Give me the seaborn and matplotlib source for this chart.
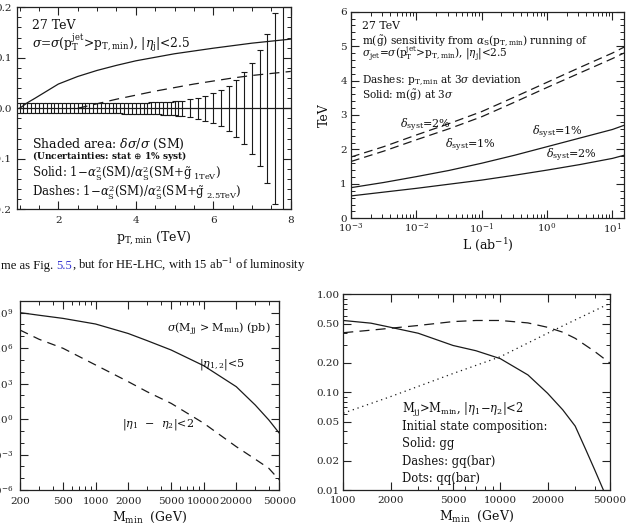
import numpy as np
import pandas as pd
import matplotlib
matplotlib.use("Agg")
import matplotlib.pyplot as plt
import seaborn as sns
from matplotlib.ticker import (MultipleLocator, LogLocator, FixedLocator,
                               FuncFormatter, NullFormatter, FormatStrFormatter,
                               LogFormatterSciNotation)

# ---------------- data ----------------
# (a) 27 TeV: relative deviation vs pT,min
pt_solid = [1.0, 1.2, 1.4, 1.7, 2.0, 2.5, 3.0, 3.5, 4.0, 5.0, 6.0, 7.0, 8.0]
dev_solid = [0.0, 0.011, 0.020, 0.034, 0.048, 0.063, 0.075, 0.085, 0.094, 0.108, 0.119, 0.129, 0.137]
pt_dash = [2.5, 3.0, 3.5, 4.0, 4.5, 5.0, 5.5, 6.0, 6.5, 7.0, 7.5, 8.0]
dev_dash = [0.0, 0.009, 0.018, 0.026, 0.034, 0.041, 0.048, 0.054, 0.060, 0.065, 0.069, 0.073]
pt_err = [1.0, 1.1, 1.2, 1.3, 1.4, 1.5, 1.6, 1.7, 1.8, 1.9, 2.0, 2.1, 2.2, 2.3, 2.4,
          2.5, 2.6, 2.7, 2.8, 2.9, 3.0, 3.1, 3.2, 3.3, 3.4, 3.5, 3.6, 3.7, 3.8, 3.9,
          4.0, 4.1, 4.2, 4.3, 4.4, 4.5, 4.6, 4.7, 4.8, 4.9, 5.0, 5.1, 5.2,
          5.4, 5.6, 5.8, 6.0, 6.2, 6.4, 6.6, 6.8, 7.0, 7.2, 7.4, 7.6, 7.8]
err = [0.010, 0.010, 0.010, 0.010, 0.010, 0.010, 0.010, 0.010, 0.010, 0.010, 0.010,
       0.010, 0.010, 0.010, 0.010, 0.010, 0.010, 0.010, 0.010, 0.010, 0.010, 0.010,
       0.010, 0.010, 0.010, 0.010, 0.0102, 0.0103, 0.0104, 0.0105, 0.0106,
       0.0108, 0.0110, 0.0112, 0.0115, 0.0118, 0.0120, 0.0124, 0.0128, 0.0133,
       0.0138, 0.0143, 0.0148,
       0.018, 0.021, 0.025, 0.030, 0.036, 0.045, 0.057, 0.071, 0.090, 0.115,
       0.148, 0.189, 0.240]

# (b) sensitivity vs luminosity
lumi = [0.001, 0.00316, 0.01, 0.0316, 0.1, 0.316, 1.0, 3.16, 10.0, 15.0]
mg_syst1 = [0.89, 1.04, 1.21, 1.39, 1.60, 1.83, 2.08, 2.33, 2.58, 2.70]
mg_syst2 = [0.65, 0.76, 0.87, 0.99, 1.11, 1.25, 1.40, 1.56, 1.74, 1.83]
ptmin_syst2 = [1.78, 2.08, 2.42, 2.75, 3.10, 3.52, 3.95, 4.38, 4.80, 4.97]
ptmin_syst1 = [1.65, 1.95, 2.28, 2.60, 2.95, 3.37, 3.80, 4.22, 4.64, 4.80]

# (c) dijet cross section vs Mmin
mmin_c = [200, 300, 500, 1000, 2000, 3000, 5000, 10000, 20000, 30000, 40000, 50000]
sig_eta5 = [9.8e8, 5.9e8, 3.2e8, 1.07e8, 1.7e7, 4.2e6, 6.8e5, 3.2e4, 5.4e2, 1.5e1, 8.3e-1, 6.3e-2]
sig_deta2 = [3.3e7, 5.5e6, 9.5e5, 3.7e4, 1.45e3, 2.0e2, 2.1e1, 4.4e-1, 4.6e-3, 4.0e-4, 6.8e-5, 7.1e-6]

# (d) initial-state composition
mmin_d = [1000, 1500, 2000, 3000, 5000, 7000, 10000, 15000, 20000, 25000, 30000, 35000, 40000, 46000]
frac_gg = [0.54, 0.507, 0.46, 0.40, 0.30, 0.265, 0.22, 0.15, 0.0975, 0.066, 0.045, 0.026, 0.016, 0.0095]
mmin_d2 = [1000, 1500, 2000, 3000, 5000, 7000, 10000, 15000, 20000, 25000, 30000, 40000, 50000]
frac_gq = [0.405, 0.43, 0.45, 0.48, 0.526, 0.54, 0.54, 0.51, 0.46, 0.41, 0.355, 0.26, 0.198]
mmin_d3 = [1000, 2000, 5000, 10000, 20000, 30000, 50000]
frac_qq = [0.061, 0.09, 0.155, 0.23, 0.40, 0.547, 0.81]

# ---------------- style ----------------
sns.set_theme(style="ticks")
plt.rcParams.update({
    "font.family": ["DejaVu Serif"],
    "mathtext.fontset": "dejavuserif",
    "axes.linewidth": 0.9,
    "axes.edgecolor": "#222222",
    "xtick.color": "#222222",
    "ytick.color": "#222222",
    "xtick.direction": "in",
    "ytick.direction": "in",
    "xtick.top": True,
    "ytick.right": True,
    "xtick.major.size": 6,
    "ytick.major.size": 6,
    "xtick.minor.size": 3,
    "ytick.minor.size": 3,
    "xtick.major.width": 0.8,
    "ytick.major.width": 0.8,
    "xtick.minor.width": 0.7,
    "ytick.minor.width": 0.7,
    "xtick.labelsize": 7.5,
    "ytick.labelsize": 7.5,
    "axes.labelsize": 9,
    "text.color": "#111111",
    "axes.labelcolor": "#111111",
})

W, H = 641, 532
fig = plt.figure(figsize=(W / 100, H / 100), dpi=100)
LC = "#1a1a1a"
LW = 0.9


def add_ax(x0, x1, ytop, ybot):
    return fig.add_axes([x0 / W, 1 - ybot / H, (x1 - x0) / W, (ybot - ytop) / H])


def ftext(x, y, s, size=8, **kw):
    return fig.text(x / W, 1 - y / H, s, va="baseline", ha="left", fontsize=size, **kw)


# ---------------- panel (a) ----------------
ax1 = add_ax(16.5, 290.7, 7.3, 209.3)
ax1.errorbar(pt_err, [0.0] * len(pt_err), yerr=err, fmt="none", ecolor=LC,
             elinewidth=0.8, capsize=2.5, capthick=0.8)
ax1.axhline(0, color=LC, lw=LW)
sns.lineplot(x=pt_solid, y=dev_solid, ax=ax1, color=LC, lw=LW, estimator=None, sort=False)
sns.lineplot(x=pt_dash, y=dev_dash, ax=ax1, color=LC, lw=LW, estimator=None, sort=False,
             linestyle=(0, (8, 5)))
ax1.set_xlim(0.92, 8)
ax1.set_ylim(-0.2, 0.2)
ax1.xaxis.set_major_locator(FixedLocator([2, 4, 6, 8]))
ax1.xaxis.set_minor_locator(MultipleLocator(0.5))
ax1.yaxis.set_major_locator(MultipleLocator(0.1))
ax1.yaxis.set_minor_locator(MultipleLocator(0.02))
ax1.yaxis.set_major_formatter(FormatStrFormatter("%.1f"))
ax1.tick_params(axis="x", which="major", pad=5)
ax1.tick_params(axis="y", which="major", pad=3.5)
ax1.set_xlabel(r"p$_{\rm T,min}$ (TeV)", labelpad=3)
ax1.set_ylabel("")

ftext(32, 29.3, "27 TeV", 9)
ftext(32, 47.7, r"$\sigma$=$\sigma$(p$_{\rm T}^{\rm jet}$>p$_{\rm T,min}$), |$\eta_{\rm j}$|<2.5", 8.8)
ftext(32, 147.7, r"Shaded area: $\delta\sigma/\sigma$ (SM)", 9)
ftext(32, 159.3, r"(Uncertainties: stat $\oplus$ 1% syst)", 6.5, fontweight="bold")
ftext(32, 177.7, r"Solid: 1$-\alpha_{\rm S}^2$(SM)/$\alpha_{\rm S}^2$(SM+$\tilde{\rm g}_{\rm\ 1TeV}$)", 8.5)
ftext(32, 196.7, r"Dashes: 1$-\alpha_{\rm S}^2$(SM)/$\alpha_{\rm S}^2$(SM+$\tilde{\rm g}_{\rm\ 2.5TeV}$)", 8.5)

# ---------------- panel (b) ----------------
ax2 = add_ax(351, 624, 11.7, 218.3)
ax2.set_xscale("log")
sns.lineplot(x=lumi, y=mg_syst1, ax=ax2, color=LC, lw=LW, estimator=None, sort=False)
sns.lineplot(x=lumi, y=mg_syst2, ax=ax2, color=LC, lw=LW, estimator=None, sort=False)
sns.lineplot(x=lumi, y=ptmin_syst2, ax=ax2, color=LC, lw=LW, estimator=None, sort=False,
             linestyle=(0, (7, 4)))
sns.lineplot(x=lumi, y=ptmin_syst1, ax=ax2, color=LC, lw=LW, estimator=None, sort=False,
             linestyle=(0, (7, 4)))
ax2.set_xlim(1e-3, 15)
ax2.set_ylim(0, 6)
ax2.xaxis.set_major_locator(LogLocator(base=10, numticks=10))
ax2.xaxis.set_minor_locator(LogLocator(base=10, subs=np.arange(2, 10), numticks=20))
ax2.xaxis.set_minor_formatter(NullFormatter())
ax2.yaxis.set_major_locator(MultipleLocator(1))
ax2.yaxis.set_minor_locator(MultipleLocator(0.2))
ax2.tick_params(axis="x", which="major", pad=2.5)
ax2.tick_params(axis="y", which="major", pad=3)
ax2.set_xlabel(r"L (ab$^{-1}$)", labelpad=0)
ax2.set_ylabel("TeV", labelpad=7)

ftext(362, 29.3, "27 TeV", 7.8)
ftext(362, 44.3, r"m($\tilde{\rm g}$) sensitivity from $\alpha_{\rm S}$(p$_{\rm T,min}$) running of", 7.6)
ftext(362, 57.2, r"$\sigma_{\rm jet}$=$\sigma$(p$_{\rm T}^{\rm jet}$>p$_{\rm T,min}$), |$\eta_{\rm j}$|<2.5", 7.6)
ftext(362, 83.3, r"Dashes: p$_{\rm T,min}$ at 3$\sigma$ deviation", 7.6)
ftext(362, 99, r"Solid: m($\tilde{\rm g}$) at 3$\sigma$", 7.6)
ftext(400, 128.3, r"$\delta_{\rm syst}$=2%", 8)
ftext(445, 148.3, r"$\delta_{\rm syst}$=1%", 8)
ftext(531.7, 135, r"$\delta_{\rm syst}$=1%", 8)
ftext(545.7, 158.3, r"$\delta_{\rm syst}$=2%", 8)

# ---------------- panel (c) ----------------
ax3 = add_ax(20, 279.3, 300.7, 490)
ax3.set_xscale("log")
ax3.set_yscale("log")
sns.lineplot(x=mmin_c, y=sig_eta5, ax=ax3, color=LC, lw=LW, estimator=None, sort=False)
sns.lineplot(x=mmin_c, y=sig_deta2, ax=ax3, color=LC, lw=LW, estimator=None, sort=False,
             linestyle=(0, (7, 5)))
ax3.set_xlim(200, 50000)
ax3.set_ylim(1e-6, 1e10)
ax3.xaxis.set_major_locator(FixedLocator([200, 500, 1000, 2000, 5000, 10000, 20000, 50000]))
ax3.xaxis.set_minor_locator(FixedLocator([300, 400, 600, 700, 800, 900, 3000, 4000, 6000,
                                          7000, 8000, 9000, 30000, 40000]))
ax3.xaxis.set_major_formatter(FuncFormatter(lambda v, p: f"{v:.0f}"))
ax3.xaxis.set_minor_formatter(NullFormatter())
ax3.yaxis.set_major_locator(FixedLocator([1e-6, 1e-3, 1e0, 1e3, 1e6, 1e9]))
ax3.yaxis.set_minor_locator(FixedLocator([10.0 ** k for k in range(-6, 11)]))
ax3.yaxis.set_major_formatter(LogFormatterSciNotation())
ax3.yaxis.set_minor_formatter(NullFormatter())
ax3.tick_params(axis="x", which="major", pad=5)
ax3.tick_params(axis="y", which="major", pad=5)
ax3.set_xlabel(r"M$_{\rm min}$  (GeV)", labelpad=2.5)

ftext(166.7, 331.7, r"$\sigma$(M$_{\rm jj}$ > M$_{\rm min}$) (pb)", 8)
ftext(199.3, 366.7, r"|$\eta_{\rm 1,2}$|<5", 8)
ftext(121.7, 426.7, r"|$\eta_{\rm 1}$  $-$  $\eta_{\rm 2}$|<2", 8)

# ---------------- panel (d) ----------------
ax4 = add_ax(343.3, 610, 294.3, 490)
ax4.set_xscale("log")
ax4.set_yscale("log")
sns.lineplot(x=mmin_d, y=frac_gg, ax=ax4, color=LC, lw=LW, estimator=None, sort=False)
sns.lineplot(x=mmin_d2, y=frac_gq, ax=ax4, color=LC, lw=LW, estimator=None, sort=False,
             linestyle=(0, (8, 5)))
sns.lineplot(x=mmin_d3, y=frac_qq, ax=ax4, color=LC, lw=LW, estimator=None, sort=False,
             linestyle=(0, (1, 3)))
ax4.set_xlim(1000, 50000)
ax4.set_ylim(0.01, 1.0)
ax4.xaxis.set_major_locator(FixedLocator([1000, 2000, 5000, 10000, 20000, 50000]))
ax4.xaxis.set_minor_locator(FixedLocator([3000, 4000, 6000, 7000, 8000, 9000, 30000, 40000]))
ax4.xaxis.set_major_formatter(FuncFormatter(lambda v, p: f"{v:.0f}"))
ax4.xaxis.set_minor_formatter(NullFormatter())
ax4.yaxis.set_major_locator(FixedLocator([0.01, 0.02, 0.05, 0.1, 0.2, 0.5, 1.0]))
ax4.yaxis.set_minor_locator(FixedLocator([0.03, 0.04, 0.06, 0.07, 0.08, 0.09,
                                          0.3, 0.4, 0.6, 0.7, 0.8, 0.9]))
ax4.yaxis.set_major_formatter(FuncFormatter(lambda v, p: f"{v:.2f}"))
ax4.yaxis.set_minor_formatter(NullFormatter())
ax4.tick_params(axis="x", which="major", pad=4.5)
ax4.tick_params(axis="y", which="major", pad=2.5)
ax4.set_xlabel(r"M$_{\rm min}$  (GeV)", labelpad=2.5)

ftext(401.7, 413.3, r"M$_{\rm jj}$>M$_{\rm min}$, |$\eta_{1}$$-$$\eta_{2}$|<2", 8.3)
ftext(401.7, 430, "Initial state composition:", 8.3)
ftext(401.7, 446.7, "Solid: gg", 8.3)
ftext(401.7, 465, "Dashes: gq(bar)", 8.3)
ftext(401.7, 482.3, "Dots: qq(bar)", 8.3)

# ---------------- caption ----------------
renderer = fig.canvas.get_renderer()
cap_kw = dict(va="baseline", ha="left", fontsize=9.1, family="Liberation Serif",
              math_fontfamily="stix")
t1 = fig.text(1 / W, 1 - 269 / H, "me as Fig.", color="#111111", **cap_kw)
bb = t1.get_window_extent(renderer)
t2 = fig.text((bb.x1 + 3) / W, 1 - 269 / H, "5.5", color="#3535d0", **cap_kw)
bb = t2.get_window_extent(renderer)
t3 = fig.text(bb.x1 / W, 1 - 269 / H, r", but for HE-LHC, with 15 ab$^{-1}$ of luminosity",
              color="#111111", **cap_kw)

fig.savefig("out.png", dpi=100)
